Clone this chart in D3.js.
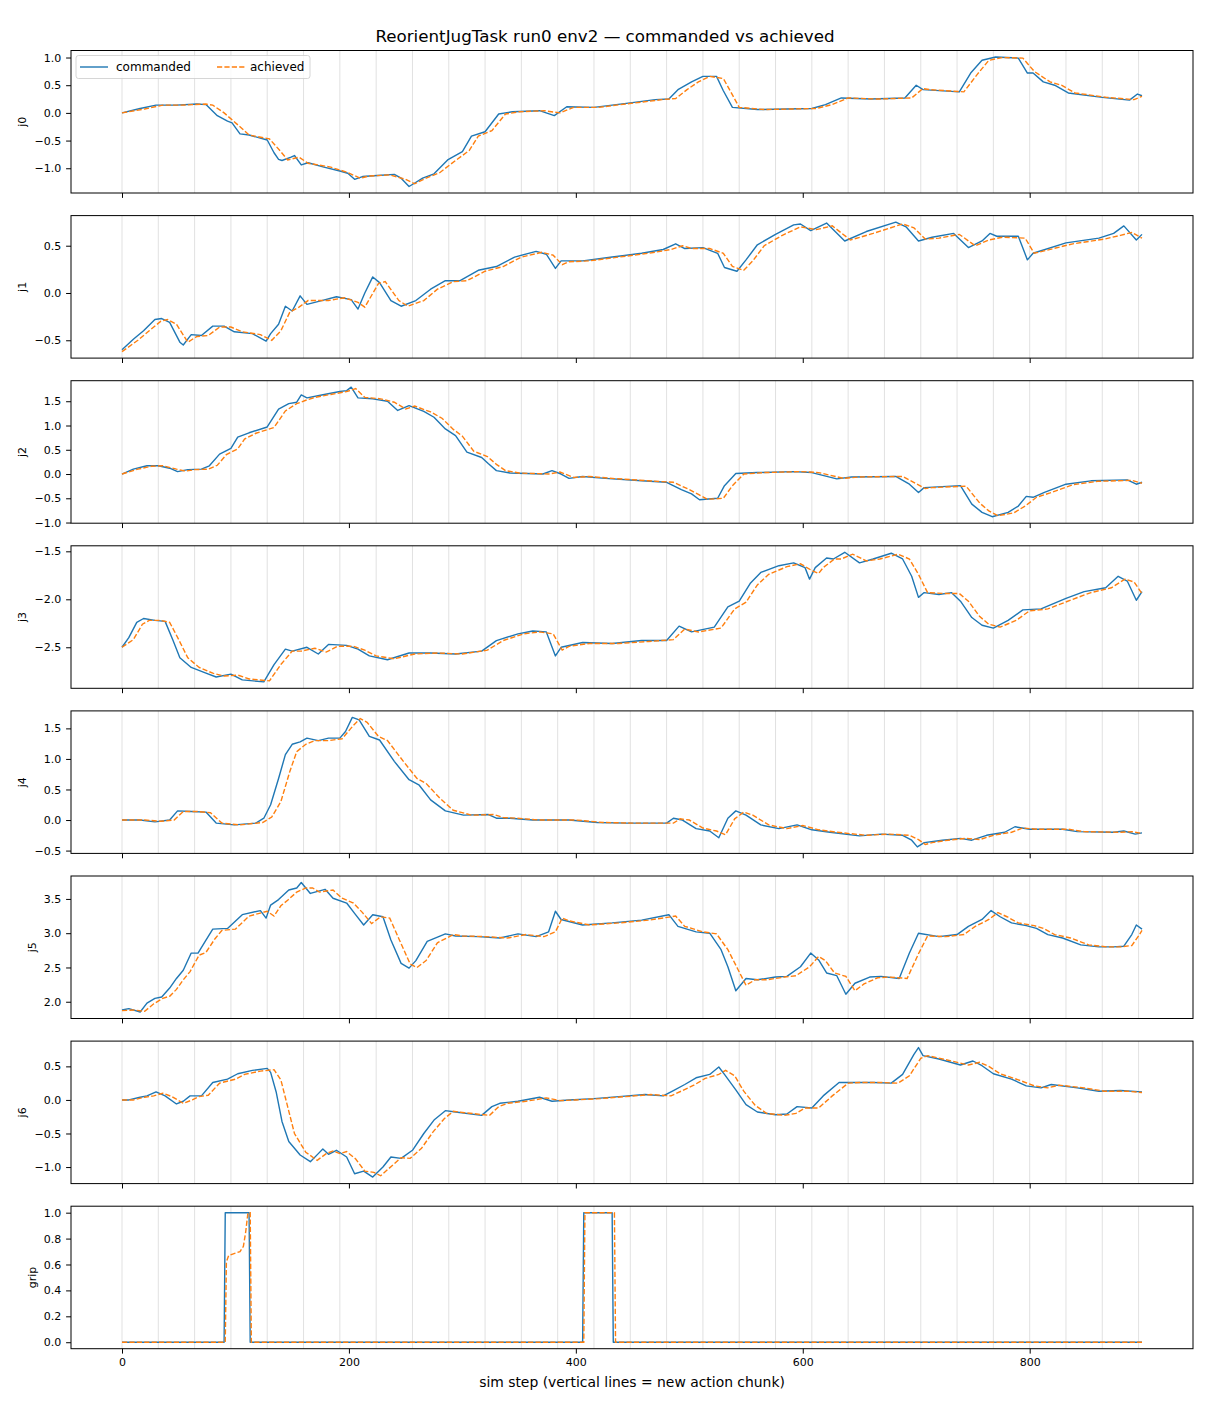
<!DOCTYPE html>
<html lang="en">
<head>
  <meta charset="UTF-8">
  <title>ReorientJugTask run0 env2</title>
  <script type="text/javascript" src="https://cdn.jsdelivr.net/npm/d3@7/dist/d3.min.js"></script>
  <style>
    body { margin: 0; background: #fff; }
    text { font-family: "DejaVu Sans", sans-serif; fill: #000; }
  </style>
</head>
<body>
<div id="chart"></div>
<script type="text/javascript">
    // [sim step, value] knots
    const j0Cmd = [[0,0.0],[16,0.08],[30,0.14],[48,0.14],[66,0.16],[74,0.15],[84,-0.05],[93,-0.15],[97,-0.18],[104,-0.38],[112,-0.40],[128,-0.49],[134,-0.72],[138,-0.84],[141,-0.86],[149,-0.80],[152,-0.77],[158,-0.94],[164,-0.90],[178,-0.98],[192,-1.05],[199,-1.09],[205,-1.20],[212,-1.15],[225,-1.13],[240,-1.11],[246,-1.18],[253,-1.33],[257,-1.28],[265,-1.18],[275,-1.10],[287,-0.85],[300,-0.70],[308,-0.42],[320,-0.34],[332,-0.02],[344,0.02],[368,0.04],[381,-0.05],[392,0.11],[416,0.10],[448,0.18],[470,0.24],[482,0.25],[490,0.42],[502,0.56],[512,0.66],[524,0.66],[530,0.40],[538,0.10],[560,0.06],[608,0.08],[620,0.15],[634,0.27],[660,0.25],[690,0.27],[700,0.50],[706,0.42],[738,0.38],[748,0.72],[758,0.95],[770,1.01],[790,0.99],[798,0.72],[803,0.72],[812,0.56],[822,0.50],[834,0.36],[864,0.28],[888,0.23],[895,0.34],[899,0.31]];
    const j0Ach = [[0,0.0],[20,0.07],[36,0.14],[52,0.14],[74,0.16],[80,0.14],[90,0.0],[104,-0.25],[112,-0.40],[130,-0.47],[140,-0.70],[146,-0.85],[156,-0.80],[164,-0.91],[184,-0.98],[198,-1.07],[210,-1.18],[218,-1.14],[236,-1.12],[250,-1.20],[258,-1.28],[268,-1.18],[280,-1.08],[294,-0.86],[306,-0.68],[314,-0.42],[326,-0.32],[338,-0.02],[350,0.02],[372,0.04],[386,0.0],[398,0.10],[420,0.10],[452,0.18],[476,0.24],[488,0.26],[498,0.42],[508,0.56],[518,0.66],[530,0.62],[536,0.40],[544,0.10],[566,0.06],[612,0.08],[626,0.15],[640,0.27],[666,0.25],[696,0.27],[706,0.44],[712,0.42],[742,0.38],[754,0.70],[764,0.95],[776,1.0],[794,0.99],[804,0.75],[818,0.56],[828,0.50],[840,0.36],[868,0.28],[892,0.24],[899,0.30]];

    const j1Cmd = [[0,-0.60],[10,-0.49],[19,-0.40],[29,-0.28],[35,-0.27],[42,-0.31],[51,-0.52],[54,-0.55],[61,-0.44],[70,-0.45],[80,-0.35],[90,-0.35],[99,-0.41],[115,-0.43],[127,-0.51],[131,-0.43],[138,-0.33],[144,-0.14],[150,-0.19],[157,-0.03],[163,-0.12],[176,-0.08],[189,-0.04],[202,-0.07],[208,-0.17],[214,0.0],[221,0.17],[227,0.11],[237,-0.08],[246,-0.14],[259,-0.08],[272,0.04],[285,0.13],[298,0.13],[314,0.24],[330,0.28],[346,0.38],[365,0.44],[374,0.41],[382,0.26],[387,0.34],[406,0.34],[432,0.38],[458,0.42],[477,0.46],[488,0.52],[496,0.47],[512,0.48],[525,0.42],[531,0.27],[542,0.23],[550,0.35],[560,0.51],[576,0.62],[592,0.72],[598,0.73],[607,0.66],[621,0.74],[637,0.55],[656,0.65],[682,0.75],[691,0.70],[702,0.55],[714,0.59],[733,0.63],[746,0.48],[758,0.55],[765,0.63],[771,0.60],[790,0.60],[798,0.35],[803,0.42],[832,0.53],[861,0.58],[874,0.63],[883,0.71],[894,0.56],[899,0.62]];
    const j1Ach = [[0,-0.62],[14,-0.50],[24,-0.40],[34,-0.30],[40,-0.28],[48,-0.33],[58,-0.52],[66,-0.46],[76,-0.45],[86,-0.36],[96,-0.36],[106,-0.41],[122,-0.44],[132,-0.50],[140,-0.40],[148,-0.20],[156,-0.15],[164,-0.08],[182,-0.08],[196,-0.05],[208,-0.10],[214,-0.15],[226,0.10],[232,0.12],[244,-0.08],[252,-0.14],[266,-0.08],[278,0.04],[292,0.12],[304,0.13],[320,0.23],[336,0.28],[352,0.38],[370,0.43],[380,0.40],[388,0.30],[394,0.33],[412,0.34],[438,0.38],[464,0.42],[484,0.46],[494,0.50],[502,0.47],[518,0.47],[530,0.42],[538,0.28],[548,0.24],[556,0.34],[566,0.50],[582,0.61],[598,0.70],[612,0.67],[626,0.71],[642,0.56],[662,0.63],[688,0.73],[698,0.69],[708,0.57],[720,0.58],[738,0.62],[752,0.50],[764,0.56],[776,0.59],[796,0.58],[804,0.42],[838,0.52],[866,0.57],[880,0.61],[890,0.64],[899,0.58]];

    const j2Cmd = [[0,0.0],[10,0.10],[22,0.17],[32,0.17],[42,0.12],[49,0.05],[58,0.09],[70,0.10],[77,0.17],[86,0.41],[96,0.53],[102,0.76],[112,0.85],[128,0.97],[138,1.34],[147,1.45],[154,1.48],[158,1.63],[163,1.57],[176,1.63],[192,1.70],[198,1.72],[202,1.79],[208,1.57],[221,1.55],[234,1.50],[243,1.31],[253,1.41],[266,1.29],[275,1.17],[285,0.93],[294,0.79],[304,0.45],[317,0.34],[323,0.21],[330,0.07],[342,0.02],[371,0.0],[379,0.07],[387,0.0],[394,-0.09],[406,-0.05],[426,-0.09],[458,-0.14],[480,-0.17],[493,-0.32],[502,-0.41],[509,-0.53],[525,-0.50],[531,-0.24],[541,0.01],[560,0.03],[592,0.05],[608,0.03],[630,-0.10],[643,-0.06],[682,-0.05],[694,-0.21],[702,-0.38],[707,-0.28],[739,-0.24],[749,-0.62],[758,-0.79],[767,-0.88],[781,-0.79],[790,-0.66],[797,-0.46],[803,-0.48],[813,-0.38],[832,-0.21],[854,-0.14],[886,-0.12],[894,-0.21],[899,-0.17]];
    const j2Ach = [[0,0.0],[14,0.10],[26,0.16],[36,0.17],[48,0.10],[56,0.06],[64,0.09],[76,0.10],[84,0.18],[92,0.40],[102,0.52],[108,0.72],[118,0.84],[134,0.96],[144,1.30],[154,1.45],[162,1.52],[170,1.58],[184,1.64],[198,1.70],[206,1.76],[214,1.58],[228,1.55],[240,1.48],[250,1.34],[258,1.40],[272,1.28],[282,1.15],[292,0.92],[300,0.78],[310,0.47],[322,0.36],[330,0.20],[338,0.07],[350,0.02],[376,0.0],[386,0.04],[398,-0.07],[412,-0.05],[432,-0.09],[464,-0.14],[486,-0.17],[500,-0.32],[508,-0.42],[516,-0.52],[530,-0.50],[538,-0.24],[548,0.0],[566,0.03],[598,0.05],[614,0.03],[636,-0.09],[650,-0.06],[688,-0.05],[700,-0.20],[708,-0.30],[714,-0.28],[744,-0.25],[756,-0.60],[764,-0.76],[772,-0.86],[786,-0.80],[796,-0.66],[806,-0.48],[818,-0.39],[838,-0.22],[860,-0.15],[890,-0.13],[899,-0.19]];

    const j3Cmd = [[0,-2.50],[6,-2.40],[13,-2.24],[19,-2.20],[29,-2.22],[38,-2.23],[45,-2.43],[51,-2.61],[61,-2.71],[74,-2.77],[83,-2.81],[96,-2.78],[106,-2.84],[125,-2.86],[134,-2.68],[144,-2.52],[150,-2.54],[163,-2.50],[173,-2.57],[182,-2.47],[198,-2.48],[208,-2.52],[218,-2.59],[234,-2.63],[253,-2.56],[272,-2.56],[294,-2.57],[317,-2.54],[330,-2.43],[349,-2.36],[362,-2.33],[374,-2.34],[382,-2.59],[387,-2.50],[406,-2.45],[432,-2.46],[458,-2.43],[480,-2.43],[491,-2.28],[502,-2.34],[522,-2.29],[534,-2.08],[544,-2.02],[554,-1.83],[563,-1.72],[579,-1.65],[592,-1.62],[602,-1.67],[606,-1.79],[611,-1.67],[621,-1.57],[627,-1.58],[637,-1.51],[650,-1.62],[662,-1.58],[678,-1.52],[688,-1.58],[696,-1.76],[702,-1.98],[707,-1.93],[720,-1.95],[731,-1.93],[739,-2.02],[749,-2.19],[758,-2.27],[768,-2.30],[781,-2.22],[794,-2.11],[810,-2.10],[832,-1.99],[848,-1.92],[867,-1.88],[878,-1.76],[886,-1.81],[894,-2.01],[899,-1.92]];
    const j3Ach = [[0,-2.50],[10,-2.42],[18,-2.26],[24,-2.22],[34,-2.22],[42,-2.24],[50,-2.42],[58,-2.61],[68,-2.71],[80,-2.77],[90,-2.80],[102,-2.79],[112,-2.83],[130,-2.85],[140,-2.68],[150,-2.54],[158,-2.54],[170,-2.51],[180,-2.55],[190,-2.49],[204,-2.49],[214,-2.53],[224,-2.59],[240,-2.62],[258,-2.57],[278,-2.56],[300,-2.57],[322,-2.53],[336,-2.43],[354,-2.36],[368,-2.34],[380,-2.36],[388,-2.53],[394,-2.49],[412,-2.46],[438,-2.46],[464,-2.44],[486,-2.42],[496,-2.31],[508,-2.34],[528,-2.30],[540,-2.10],[550,-2.03],[560,-1.85],[570,-1.74],[586,-1.66],[598,-1.63],[608,-1.70],[614,-1.73],[618,-1.67],[628,-1.58],[634,-1.58],[644,-1.53],[656,-1.60],[668,-1.58],[684,-1.53],[694,-1.58],[702,-1.74],[710,-1.93],[726,-1.94],[738,-1.94],[746,-2.02],[756,-2.18],[764,-2.26],[774,-2.29],[788,-2.22],[800,-2.12],[816,-2.10],[838,-2.00],[854,-1.93],[872,-1.88],[884,-1.79],[892,-1.82],[899,-1.94]];

    const j4Cmd = [[0,0.0],[16,0.0],[29,-0.03],[42,0.0],[49,0.15],[61,0.14],[74,0.13],[83,-0.05],[99,-0.08],[118,-0.05],[125,0.03],[131,0.25],[138,0.68],[144,1.07],[150,1.24],[157,1.28],[163,1.34],[173,1.30],[182,1.34],[192,1.34],[197,1.45],[203,1.68],[209,1.64],[218,1.37],[227,1.31],[240,0.96],[253,0.66],[262,0.57],[272,0.33],[285,0.15],[301,0.08],[323,0.09],[330,0.03],[342,0.03],[362,0.0],[394,0.0],[419,-0.04],[445,-0.05],[480,-0.05],[486,0.03],[494,0.0],[506,-0.14],[518,-0.18],[526,-0.29],[534,0.03],[541,0.15],[550,0.08],[563,-0.08],[579,-0.14],[595,-0.08],[608,-0.16],[624,-0.20],[650,-0.26],[669,-0.23],[688,-0.25],[696,-0.33],[701,-0.44],[707,-0.37],[723,-0.33],[739,-0.30],[749,-0.33],[762,-0.25],[778,-0.20],[787,-0.11],[800,-0.15],[829,-0.15],[842,-0.19],[874,-0.20],[883,-0.18],[893,-0.23],[899,-0.21]];
    const j4Ach = [[0,0.0],[20,0.0],[34,-0.02],[46,0.0],[54,0.14],[66,0.14],[78,0.12],[88,-0.05],[104,-0.08],[124,-0.04],[132,0.05],[140,0.30],[148,0.80],[154,1.12],[162,1.24],[170,1.30],[182,1.30],[194,1.33],[204,1.55],[210,1.66],[216,1.60],[226,1.37],[234,1.30],[248,0.96],[260,0.68],[268,0.60],[280,0.36],[292,0.16],[308,0.08],[328,0.09],[336,0.04],[348,0.03],[368,0.0],[400,0.0],[424,-0.04],[450,-0.05],[486,-0.05],[492,0.02],[500,0.0],[512,-0.13],[524,-0.18],[532,-0.24],[540,0.02],[548,0.13],[556,0.08],[570,-0.08],[586,-0.14],[600,-0.09],[614,-0.16],[630,-0.20],[656,-0.25],[676,-0.23],[694,-0.25],[702,-0.32],[708,-0.40],[714,-0.37],[728,-0.33],[744,-0.30],[756,-0.32],[768,-0.25],[784,-0.20],[794,-0.13],[806,-0.15],[834,-0.15],[848,-0.19],[880,-0.20],[890,-0.19],[899,-0.22]];

    const j5Cmd = [[0,1.88],[6,1.90],[16,1.85],[22,1.98],[29,2.05],[35,2.07],[42,2.20],[48,2.34],[54,2.46],[61,2.71],[67,2.71],[74,2.90],[80,3.06],[93,3.07],[106,3.27],[122,3.33],[127,3.22],[131,3.41],[138,3.49],[147,3.63],[154,3.66],[158,3.74],[166,3.58],[179,3.64],[186,3.51],[198,3.44],[205,3.29],[213,3.12],[221,3.27],[230,3.24],[237,2.90],[246,2.56],[253,2.49],[259,2.60],[269,2.88],[285,2.99],[294,2.96],[314,2.95],[333,2.93],[349,2.99],[365,2.95],[376,3.02],[382,3.32],[387,3.20],[406,3.12],[432,3.15],[458,3.19],[482,3.27],[490,3.10],[506,3.02],[518,3.0],[528,2.76],[534,2.51],[541,2.16],[550,2.34],[560,2.32],[576,2.36],[586,2.37],[598,2.51],[607,2.71],[614,2.61],[621,2.42],[630,2.38],[638,2.11],[646,2.27],[659,2.36],[669,2.37],[685,2.34],[694,2.71],[702,3.0],[720,2.95],[736,2.98],[746,3.10],[758,3.20],[766,3.33],[774,3.24],[784,3.15],[797,3.11],[806,3.07],[816,2.98],[829,2.93],[845,2.83],[861,2.80],[874,2.80],[883,2.81],[890,2.98],[894,3.12],[899,3.06]];
    const j5Ach = [[0,1.87],[10,1.88],[20,1.86],[28,1.97],[36,2.05],[42,2.08],[48,2.18],[54,2.32],[60,2.44],[68,2.68],[74,2.72],[82,2.92],[88,3.04],[100,3.06],[112,3.25],[128,3.32],[134,3.25],[140,3.40],[146,3.48],[154,3.60],[162,3.66],[168,3.66],[174,3.60],[186,3.63],[194,3.51],[204,3.44],[212,3.30],[220,3.14],[228,3.24],[236,3.22],[244,2.92],[254,2.55],[260,2.50],[268,2.60],[278,2.86],[292,2.98],[300,2.96],[320,2.95],[340,2.93],[356,2.98],[372,2.95],[382,3.02],[388,3.22],[394,3.18],[412,3.12],[438,3.15],[464,3.19],[488,3.25],[496,3.10],[512,3.02],[524,2.99],[534,2.76],[542,2.50],[550,2.24],[558,2.32],[568,2.32],[584,2.36],[594,2.38],[606,2.51],[614,2.66],[620,2.60],[628,2.42],[638,2.37],[646,2.16],[654,2.26],[666,2.35],[676,2.36],[692,2.34],[702,2.70],[710,2.96],[726,2.95],[742,2.98],[752,3.10],[764,3.20],[772,3.30],[780,3.24],[790,3.15],[804,3.11],[812,3.07],[822,2.98],[836,2.93],[852,2.83],[868,2.80],[880,2.80],[890,2.82],[896,2.96],[899,3.04]];

    const j6Cmd = [[0,0.0],[6,0.0],[16,0.04],[22,0.06],[30,0.12],[38,0.06],[48,-0.06],[54,-0.02],[60,0.06],[70,0.06],[80,0.26],[93,0.31],[102,0.39],[115,0.44],[128,0.47],[131,0.41],[136,0.11],[141,-0.32],[147,-0.62],[157,-0.82],[166,-0.92],[173,-0.80],[177,-0.73],[182,-0.81],[189,-0.75],[198,-0.85],[205,-1.10],[213,-1.06],[221,-1.15],[230,-1.00],[237,-0.85],[246,-0.87],[256,-0.75],[266,-0.50],[275,-0.30],[285,-0.16],[294,-0.18],[317,-0.23],[326,-0.10],[333,-0.05],[349,-0.02],[368,0.04],[379,-0.02],[394,0.0],[416,0.02],[438,0.05],[461,0.08],[477,0.06],[486,0.14],[496,0.23],[506,0.33],[518,0.38],[526,0.49],[531,0.38],[541,0.15],[550,-0.07],[560,-0.18],[576,-0.22],[586,-0.21],[595,-0.10],[608,-0.12],[618,0.06],[632,0.26],[643,0.26],[662,0.26],[678,0.25],[688,0.38],[698,0.68],[702,0.78],[706,0.66],[720,0.61],[739,0.52],[750,0.58],[758,0.51],[768,0.39],[784,0.31],[797,0.21],[810,0.18],[819,0.23],[842,0.18],[861,0.13],[880,0.14],[899,0.12]];
    const j6Ach = [[0,0.0],[10,0.0],[20,0.04],[28,0.06],[36,0.10],[44,0.05],[54,-0.05],[62,0.0],[68,0.05],[76,0.07],[86,0.25],[100,0.31],[108,0.38],[122,0.43],[134,0.45],[140,0.30],[146,-0.10],[152,-0.50],[162,-0.78],[172,-0.90],[180,-0.80],[186,-0.76],[192,-0.80],[198,-0.77],[206,-0.88],[214,-1.06],[222,-1.08],[228,-1.13],[238,-0.98],[246,-0.86],[254,-0.87],[264,-0.72],[274,-0.48],[284,-0.28],[292,-0.17],[302,-0.19],[324,-0.23],[332,-0.10],[340,-0.05],[356,-0.02],[374,0.03],[386,-0.01],[400,0.0],[422,0.02],[444,0.05],[466,0.08],[484,0.06],[494,0.14],[504,0.22],[514,0.32],[526,0.38],[532,0.44],[540,0.36],[548,0.13],[558,-0.08],[568,-0.20],[584,-0.23],[594,-0.20],[602,-0.12],[614,-0.12],[626,0.06],[640,0.25],[650,0.26],[668,0.26],[684,0.25],[694,0.36],[704,0.62],[710,0.66],[726,0.60],[746,0.52],[756,0.56],[764,0.50],[774,0.39],[790,0.30],[804,0.21],[816,0.18],[826,0.22],[848,0.18],[866,0.13],[886,0.13],[899,0.11]];

    const gripCmd = [[0,0],[90,0],[91,1],[112,1],[113,0],[406,0],[407,1],[432,1],[433,0],[899,0]];
    const gripAch = [[0,0],[91,0],[92,0.62],[94,0.67],[104,0.70],[107,0.74],[109,0.85],[111,1.0],[113,1.0],[114,0],[407,0],[408,1],[434,1],[435,0],[899,0]];

    // steps where a new action chunk starts
    const chunkStarts = [0,32,64,96,128,160,192,224,256,288,320,352,384,416,448,480,512,544,576,608,640,672,704,736,768,800,832,864,896];

    const panelNames = ["j0", "j1", "j2", "j3", "j4", "j5", "j6", "grip"];
    const yTicks = [
        [-1.0, -0.5, 0.0, 0.5, 1.0],
        [-0.5, 0.0, 0.5],
        [-1.0, -0.5, 0.0, 0.5, 1.0, 1.5],
        [-2.5, -2.0, -1.5],
        [-0.5, 0.0, 0.5, 1.0, 1.5],
        [2.0, 2.5, 3.0, 3.5],
        [-1.0, -0.5, 0.0, 0.5],
        [0.0, 0.2, 0.4, 0.6, 0.8, 1.0]
    ];
    const xTicks = [0, 200, 400, 600, 800];
    const commanded = [j0Cmd, j1Cmd, j2Cmd, j3Cmd, j4Cmd, j5Cmd, j6Cmd, gripCmd];
    const achieved = [j0Ach, j1Ach, j2Ach, j3Ach, j4Ach, j5Ach, j6Ach, gripAch];

    let width = 1210, height = 1408,
        left = 71, right = 1193,
        firstTop = 50.5, pitch = 165.1, panelH = 142.5,
        tickLen = 4.9, tickPad = 4.9;

    let svg = d3.select("#chart").append("svg")
        .attr("width", width).attr("height", height);

    // matplotlib style 5% margins
    let pad = function (ext) {
        let d = (ext[1] - ext[0]) * 0.05;
        return [ext[0] - d, ext[1] + d];
    };

    let x = d3.scaleLinear()
        .domain(pad(d3.extent(j0Cmd, d => d[0])))
        .range([left, right]);

    svg.append("text").attr("x", width / 2).attr("y", 42)
        .attr("text-anchor", "middle").style("font-size", "16.7px")
        .text("ReorientJugTask run0 env2 \u2014 commanded vs achieved");

    panelNames.forEach(function (name, i) {
        let top = firstTop + i * pitch,
            bottom = top + panelH;
        let all = commanded[i].concat(achieved[i]);
        let y = d3.scaleLinear()
            .domain(pad(d3.extent(all, d => d[1])))
            .range([bottom, top]);

        let g = svg.append("g");

        g.selectAll("line.chunk").data(chunkStarts).enter().append("line")
            .attr("class", "chunk")
            .attr("x1", d => x(d)).attr("x2", d => x(d))
            .attr("y1", top).attr("y2", bottom)
            .attr("stroke", "#808080").attr("stroke-opacity", 0.3)
            .attr("stroke-width", 0.8);

        let line = d3.line().x(d => x(d[0])).y(d => y(d[1]));

        g.append("path").datum(commanded[i])
            .attr("d", line).attr("fill", "none")
            .attr("stroke", "#1f77b4").attr("stroke-width", 1.4)
            .attr("stroke-linejoin", "round");
        g.append("path").datum(achieved[i])
            .attr("d", line).attr("fill", "none")
            .attr("stroke", "#ff7f0e").attr("stroke-width", 1.4)
            .attr("stroke-dasharray", "5.2,2.2");

        let yAxis = g.append("g").attr("transform", "translate(" + left + ",0)")
            .call(d3.axisLeft(y).tickValues(yTicks[i]).tickFormat(d3.format(".1f"))
                .tickSize(tickLen).tickPadding(tickPad));
        yAxis.select(".domain").remove();
        yAxis.selectAll("text").style("font-size", "11px").attr("fill", "#000");
        yAxis.selectAll("line").attr("stroke", "#000").attr("stroke-width", 1);

        let xAxis = g.append("g").attr("transform", "translate(0," + bottom + ")")
            .call(d3.axisBottom(x).tickValues(xTicks).tickSize(tickLen).tickPadding(tickPad));
        xAxis.select(".domain").remove();
        xAxis.selectAll("line").attr("stroke", "#000").attr("stroke-width", 1);
        xAxis.selectAll("text").style("font-size", "11px").attr("fill", "#000");
        if (i < panelNames.length - 1) {
            xAxis.selectAll("text").remove();
        }

        g.append("rect").attr("x", left).attr("y", top)
            .attr("width", right - left).attr("height", panelH)
            .attr("fill", "none").attr("stroke", "#000").attr("stroke-width", 1);

        // y label sits left of the widest tick label, as matplotlib does
        let labelW = d3.max(yAxis.selectAll("text").nodes(), n => n.getBBox().width);
        let labelX = left - tickLen - tickPad - labelW - 5.6 - 2.6;
        g.append("text")
            .attr("transform", "translate(" + labelX + "," + (top + panelH / 2) + ") rotate(-90)")
            .attr("text-anchor", "middle").style("font-size", "11px")
            .text(name);

        if (i === 0) {
            let lg = g.append("g").attr("transform", "translate(" + (left + 5) + "," + (top + 5) + ")");
            lg.append("rect").attr("width", 234).attr("height", 23).attr("rx", 2.5)
                .attr("fill", "#fff").attr("fill-opacity", 0.8)
                .attr("stroke", "#cccccc").attr("stroke-width", 0.8);
            lg.append("line").attr("x1", 4).attr("x2", 32).attr("y1", 11.5).attr("y2", 11.5)
                .attr("stroke", "#1f77b4").attr("stroke-width", 1.4);
            lg.append("text").attr("x", 40).attr("y", 15.8).style("font-size", "12px").text("commanded");
            lg.append("line").attr("x1", 141).attr("x2", 169).attr("y1", 11.5).attr("y2", 11.5)
                .attr("stroke", "#ff7f0e").attr("stroke-width", 1.4)
                .attr("stroke-dasharray", "5.2,2.2");
            lg.append("text").attr("x", 174).attr("y", 15.8).style("font-size", "12px").text("achieved");
        }
    });

    svg.append("text").attr("x", (left + right) / 2).attr("y", 1387)
        .attr("text-anchor", "middle").style("font-size", "13.9px")
        .text("sim step (vertical lines = new action chunk)");
</script>
</body>
</html>
